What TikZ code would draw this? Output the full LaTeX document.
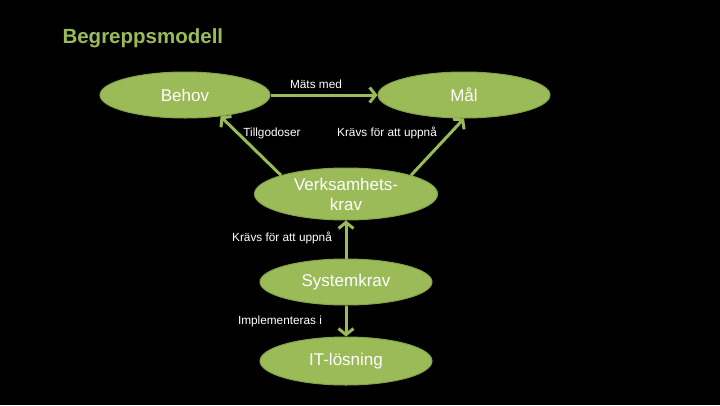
\documentclass[tikz,border=0pt]{standalone}
\usepackage{fontspec}
\setmainfont{Liberation Sans}
\usetikzlibrary{shapes.geometric,arrows.meta}
\definecolor{olive}{HTML}{9BBB59}
\definecolor{oliveDark}{HTML}{86A34A}
\tikzstyle{blob}=[shape = ellipse, fill = olive, draw = oliveDark, line width = 1pt, inner sep = 0pt, minimum width = 172pt, minimum height = 46pt, text = white, font = \fontsize{17}{20}\selectfont, align = center]
\tikzstyle{link}=[draw = olive, line width = 3pt, -{Straight Barb[length=6pt,width=15pt]}]
\tikzstyle{linkLabel}=[text = white, font = \fontsize{11.8}{13}\selectfont, inner sep = 0pt]

\begin{document}
\begin{tikzpicture}[x = 1pt, y = -1pt]
\fill[black] (0,0) rectangle (720,405);
\useasboundingbox (0,0) rectangle (720,405);
\node[anchor = west, text = olive, font = \fontsize{20.5}{24}\selectfont\bfseries] (title) at (59,38) {Begreppsmodell};
\node[blob, minimum width = 170pt] (behov) at (185,95) {Behov};
\node[blob] (mal) at (464,95) {Mål};
\node[blob, minimum width = 183pt, minimum height = 52pt] (verk) at (346,194) {Verksamhets-\\krav};
\node[blob] (sys) at (346,282) {Systemkrav};
\node[blob, minimum height = 48pt] (it) at (346,361) {IT-lösning};
\draw[link] (behov) -- (mal);
\draw[link] (verk.north west) -- (behov.-31);
\draw[link] (verk.north east) -- (mal.south);
\draw[link] (sys) -- (verk);
\draw[link] (sys) -- (it);
\node[linkLabel] (lblMats) at (316,84) {Mäts med};
\node[linkLabel] (lblTill) at (272,133) {Tillgodoser};
\node[linkLabel] (lblKrav) at (387,133) {Krävs för att uppnå};
\node[linkLabel] (lblKrav2) at (282,238) {Krävs för att uppnå};
\node[linkLabel] (lblImpl) at (280,321) {Implementeras i};
\end{tikzpicture}
\end{document}
